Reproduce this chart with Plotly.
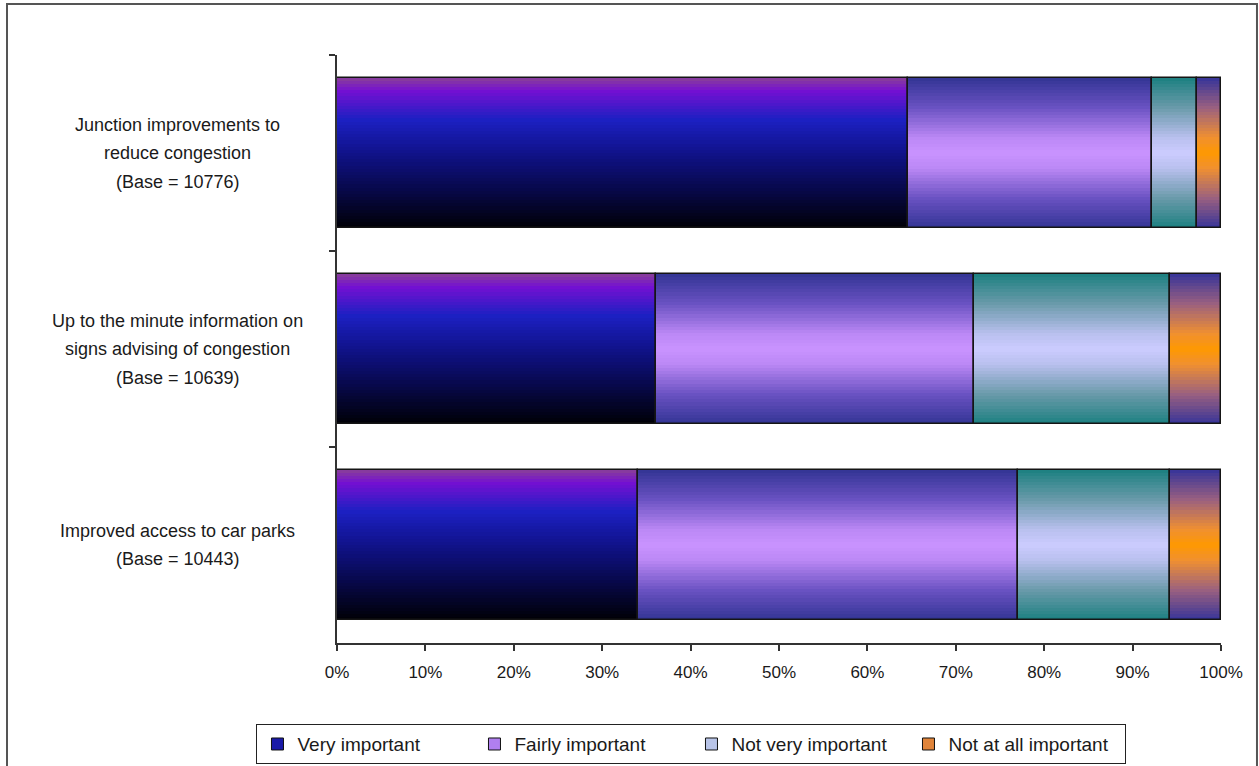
import plotly.graph_objects as go

# ---------------- data ----------------
label_lines = [
    ["Junction improvements to", "reduce congestion", "(Base = 10776)"],
    ["Up to the minute information on", "signs advising of congestion", "(Base = 10639)"],
    ["Improved access to car parks", "(Base = 10443)"],
]
categories = [" ".join(l) for l in label_lines]
series_names = ["Very important", "Fairly important", "Not very important", "Not at all important"]
very_important = [64.6, 36.1, 34.0]
fairly_important = [27.6, 36.0, 43.0]
not_very_important = [5.1, 22.1, 17.2]
not_at_all_important = [2.7, 5.8, 5.8]
x_tick_vals = [0, 10, 20, 30, 40, 50, 60, 70, 80, 90, 100]
x_tick_text = ["0%", "10%", "20%", "30%", "40%", "50%", "60%", "70%", "80%", "90%", "100%"]

series_values = [very_important, fairly_important, not_very_important, not_at_all_important]

# ---------------- styles ----------------
gradients = [
    [(0.0, "#8a3f98"), (0.09, "#7410d2"), (0.28, "#1c20c2"), (0.5, "#10128a"), (0.75, "#070848"), (1.0, "#000005")],
    [(0.0, "#323494"), (0.2, "#6a52c2"), (0.4, "#bb88f5"), (0.5, "#c993ff"), (0.6, "#bb88f5"), (0.8, "#6a52c2"), (1.0, "#323494")],
    [(0.0, "#1b8080"), (0.2, "#6a9aaa"), (0.4, "#b9c0ee"), (0.5, "#ccccff"), (0.6, "#b9c0ee"), (0.8, "#6a9aaa"), (1.0, "#1b8080")],
    [(0.0, "#363499"), (0.2, "#9a6080"), (0.4, "#f09030"), (0.5, "#ff9900"), (0.6, "#f09030"), (0.8, "#9a6080"), (1.0, "#363499")],
]
legend_colors = ["#1a1aa8", "#b07ff0", "#b8c4e8", "#e0843a"]
BAR_W = 0.77
N_SLICES = 48
FONT = "Liberation Sans, Arial, sans-serif"


def hex_rgb(h):
    h = h.lstrip("#")
    return tuple(int(h[i:i + 2], 16) for i in (0, 2, 4))


def grad_color(stops, t):
    for (p0, c0), (p1, c1) in zip(stops[:-1], stops[1:]):
        if p0 <= t <= p1:
            f = 0 if p1 == p0 else (t - p0) / (p1 - p0)
            a, b = hex_rgb(c0), hex_rgb(c1)
            return "rgb(%d,%d,%d)" % tuple(round(a[k] + (b[k] - a[k]) * f) for k in range(3))
    return stops[-1][1]


fig = go.Figure()

# cumulative bases
bases = []
running = [0.0] * len(categories)
for vals in series_values:
    bases.append(list(running))
    running = [r + v for r, v in zip(running, vals)]

# legend-only entries
for name, col in zip(series_names, legend_colors):
    fig.add_trace(go.Bar(
        x=[None], y=[categories[0]], orientation="h", name=name,
        marker=dict(color=col, line=dict(color="#111111", width=1)),
        showlegend=True, hoverinfo="skip",
    ))

step = BAR_W / N_SLICES
for s, vals in enumerate(series_values):
    for i in range(N_SLICES):
        t = (i + 0.5) / N_SLICES
        w = step * 1.6 if i < N_SLICES - 1 else step
        fig.add_trace(go.Bar(
            x=vals, y=categories, base=bases[s], orientation="h",
            width=w, offset=-BAR_W / 2 + i * step,
            marker=dict(color=grad_color(gradients[s], t), line=dict(width=0)),
            showlegend=False, hoverinfo="skip",
        ))
    # outline
    fig.add_trace(go.Bar(
        x=vals, y=categories, base=bases[s], orientation="h",
        width=BAR_W, offset=-BAR_W / 2,
        marker=dict(color="rgba(0,0,0,0)", line=dict(color="#151515", width=1.5)),
        showlegend=False, name=series_names[s],
        hovertemplate="%{y}<br>" + series_names[s] + ": %{x:.1f}%<extra></extra>",
    ))

# category labels, centred multi-line
LINE_H = 28.5
for cat, lines in zip(categories, label_lines):
    n = len(lines)
    for j, line in enumerate(lines):
        fig.add_annotation(
            x=-0.18, xref="paper", y=cat, yref="y",
            text=line, showarrow=False, xanchor="center", yanchor="middle",
            yshift=((n - 1) / 2 - j) * LINE_H,
            font=dict(family=FONT, size=18, color="#1a1a1a"),
        )

# outer chart frame
fig.add_shape(type="rect", xref="paper", yref="paper",
              x0=-0.3733, x1=1.0407, y0=-0.27, y1=1.0867,
              line=dict(color="#555555", width=2), fillcolor="rgba(0,0,0,0)", layer="below")

fig.update_layout(
    width=1259, height=766,
    margin=dict(l=337, r=38, t=55, b=123, autoexpand=False),
    paper_bgcolor="white", plot_bgcolor="white",
    barmode="overlay", bargap=0,
    font=dict(family=FONT, size=17, color="#1a1a1a"),
    xaxis=dict(
        range=[0, 100], tickvals=x_tick_vals, ticktext=x_tick_text,
        showgrid=False, zeroline=False,
        showline=True, linecolor="#333333", linewidth=1.5,
        ticks="outside", ticklen=6, tickcolor="#333333", tickwidth=1.5,
        ticklabelstandoff=7,
        tickfont=dict(family=FONT, size=17, color="#1a1a1a"),
        fixedrange=True,
    ),
    yaxis=dict(
        type="category", categoryorder="array", categoryarray=categories,
        autorange="reversed", range=[2.5, -0.5],
        showgrid=False, zeroline=False,
        showline=True, linecolor="#333333", linewidth=1.5,
        ticks="outside", ticklen=6, tickcolor="#333333", tickwidth=1.5,
        tickson="boundaries", showticklabels=False,
        fixedrange=True,
    ),
    legend=dict(
        orientation="h", x=0.401, xanchor="center", y=-0.138, yanchor="top",
        bordercolor="#222222", borderwidth=1, bgcolor="white",
        font=dict(family=FONT, size=19, color="#1a1a1a"),
        entrywidth=172, entrywidthmode="pixels",
        traceorder="normal",
    ),
    showlegend=True,
)

fig.write_html("out.html", config={"displayModeBar": False},
               post_script="document.body.style.margin='0';")
